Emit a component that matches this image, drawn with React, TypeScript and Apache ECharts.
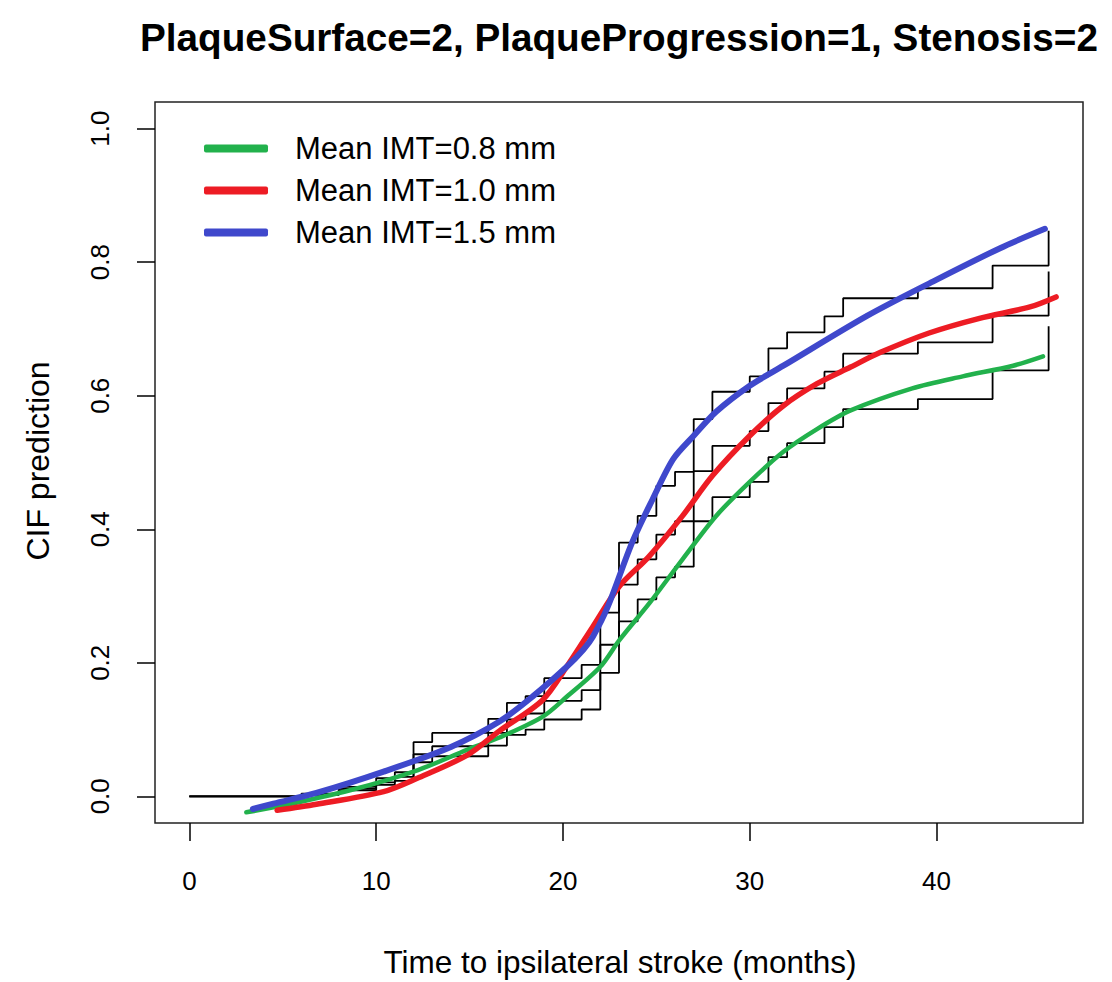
import React, { useEffect, useRef } from "react";
import * as echarts from "echarts";

// Step (observed) CIF functions, shared jump times (months)
const stepTimes = [0, 6, 8, 10, 11, 12, 13, 16, 17, 18, 19, 21, 22, 23, 24, 25, 26, 27, 28, 30, 31, 32, 34, 35, 39, 43, 46];
const stepHigh = [0, 0.004, 0.014, 0.027, 0.036, 0.081, 0.095, 0.116, 0.14, 0.15, 0.177, 0.197, 0.275, 0.38, 0.42, 0.465, 0.486, 0.565, 0.606, 0.629, 0.671, 0.695, 0.719, 0.746, 0.761, 0.795, 0.847];
const stepMid = [0, 0.003, 0.011, 0.021, 0.029, 0.063, 0.075, 0.095, 0.115, 0.124, 0.143, 0.159, 0.227, 0.317, 0.355, 0.392, 0.412, 0.487, 0.525, 0.547, 0.589, 0.611, 0.636, 0.663, 0.68, 0.72, 0.786];
const stepLow = [0, 0.002, 0.009, 0.017, 0.023, 0.051, 0.06, 0.076, 0.092, 0.1, 0.115, 0.13, 0.185, 0.262, 0.295, 0.328, 0.344, 0.412, 0.448, 0.471, 0.508, 0.529, 0.553, 0.58, 0.595, 0.638, 0.704];

// Smoothed prediction curves
const greenX = [3.05, 5.0, 8.6, 12.2, 14.9, 16.6, 18.9, 20.2, 22.0, 23.05, 24.65, 26.4, 28.2, 30.0, 31.8, 33.6, 35.4, 38.7, 41.4, 44.1, 45.7];
const greenY = [-0.024, -0.014, 0.009, 0.039, 0.07, 0.088, 0.119, 0.149, 0.194, 0.235, 0.29, 0.355, 0.42, 0.471, 0.516, 0.55, 0.578, 0.611, 0.629, 0.645, 0.659];
const redX = [4.7, 6.8, 10.4, 12.2, 14.9, 16.6, 18.9, 20.2, 21.6, 23.0, 24.6, 26.4, 28.0, 30.0, 31.8, 33.6, 35.4, 37.0, 39.6, 42.3, 45.0, 46.4];
const redY = [-0.021, -0.012, 0.007, 0.027, 0.062, 0.098, 0.144, 0.194, 0.254, 0.314, 0.359, 0.42, 0.48, 0.54, 0.585, 0.618, 0.643, 0.665, 0.694, 0.716, 0.733, 0.748];
const blueX = [3.4, 4.5, 6.8, 10.4, 14.0, 16.6, 18.4, 20.2, 21.1, 21.6, 22.4, 23.7, 24.8, 25.9, 27.0, 28.2, 30.0, 31.8, 36.3, 39.8, 43.4, 45.8];
const blueY = [-0.019, -0.011, 0.005, 0.037, 0.074, 0.112, 0.15, 0.194, 0.22, 0.239, 0.284, 0.38, 0.445, 0.505, 0.54, 0.576, 0.615, 0.645, 0.72, 0.771, 0.821, 0.85];

const seriesNames = ["Mean IMT=0.8 mm", "Mean IMT=1.0 mm", "Mean IMT=1.5 mm"];
const seriesColors = ["#22b14c", "#ed1c24", "#3f48cc"];
const xTicks = [0, 10, 20, 30, 40];
const yTicks = [0, 0.2, 0.4, 0.6, 0.8, 1.0];

const titleText = "PlaqueSurface=2, PlaqueProgression=1, Stenosis=2";
const xTitle = "Time to ipsilateral stroke (months)";
const yTitle = "CIF prediction";

const FONT = "'Liberation Sans', Arial, sans-serif";

const zip = (xs: number[], ys: number[]) => xs.map((x, i) => [x, ys[i]]);

export default function App() {
  const ref = useRef<HTMLDivElement>(null);
  useEffect(() => {
    if (!ref.current) return;
    const chart = echarts.init(ref.current, undefined, { renderer: "svg" });
    const stepSeries = [stepLow, stepMid, stepHigh].map((vals) => ({
      type: "line",
      step: "end",
      data: zip(stepTimes, vals),
      symbol: "none",
      silent: true,
      z: 1,
      lineStyle: { color: "#000", width: 1.8 },
    }));
    const curves = [
      [greenX, greenY, 4.5],
      [redX, redY, 5.5],
      [blueX, blueY, 6],
    ].map(([xs, ys, w]: any, i) => ({
      type: "line",
      name: seriesNames[i],
      data: zip(xs, ys),
      symbol: "none",
      smooth: 0.3,
      z: 3,
      color: seriesColors[i],
      lineStyle: { color: seriesColors[i], width: w, cap: "round", join: "round" },
    }));
    chart.setOption({
      animation: false,
      backgroundColor: "#fff",
      textStyle: { fontFamily: FONT },
      grid: {
        left: 155,
        top: 102,
        width: 928,
        height: 721,
        show: true,
        borderColor: "#222",
        borderWidth: 1.5,
        backgroundColor: "transparent",
      },
      legend: {
        orient: "vertical",
        left: 199,
        top: 128,
        icon: "roundRect",
        itemWidth: 64,
        itemHeight: 8,
        itemGap: 11,
        data: seriesNames,
        textStyle: { fontSize: 31, lineHeight: 31, color: "#000", fontFamily: FONT, padding: [0, 0, 0, 22] },
      },
      xAxis: {
        type: "value",
        min: -1.84,
        max: 47.84,
        splitLine: { show: false },
        axisLine: { show: false, onZero: false },
        axisTick: { show: true, inside: false, length: 18, lineStyle: { color: "#000", width: 1.5 }, customValues: xTicks },
        axisLabel: { fontSize: 26, color: "#000", margin: 45, fontFamily: FONT, customValues: xTicks },
      },
      yAxis: {
        type: "value",
        min: -0.04,
        max: 1.04,
        splitLine: { show: false },
        axisLine: { show: false, onZero: false },
        axisTick: { show: true, inside: false, length: 18, lineStyle: { color: "#000", width: 1.5 }, customValues: yTicks },
        axisLabel: {
          fontSize: 26,
          color: "#000",
          margin: 42,
          rotate: 90,
          fontFamily: FONT,
          customValues: yTicks,
          formatter: (v: number) => v.toFixed(1),
        },
      },
      graphic: [
        {
          type: "text",
          x: 619,
          y: 37,
          style: { text: titleText, fill: "#000", font: `bold 38.7px ${FONT}`, align: "center", verticalAlign: "middle" },
        },
        {
          type: "text",
          x: 620,
          y: 962,
          style: { text: xTitle, fill: "#000", font: `31.5px ${FONT}`, align: "center", verticalAlign: "middle" },
        },
        {
          type: "text",
          x: 38,
          y: 461,
          rotation: Math.PI / 2,
          style: { text: yTitle, fill: "#000", font: `32px ${FONT}`, align: "center", verticalAlign: "middle" },
        },
      ],
      series: [...stepSeries, ...curves],
    });
    return () => chart.dispose();
  }, []);
  return <div ref={ref} style={{ position: "absolute", left: 0, top: 0, width: 1112, height: 982 }} />;
}
